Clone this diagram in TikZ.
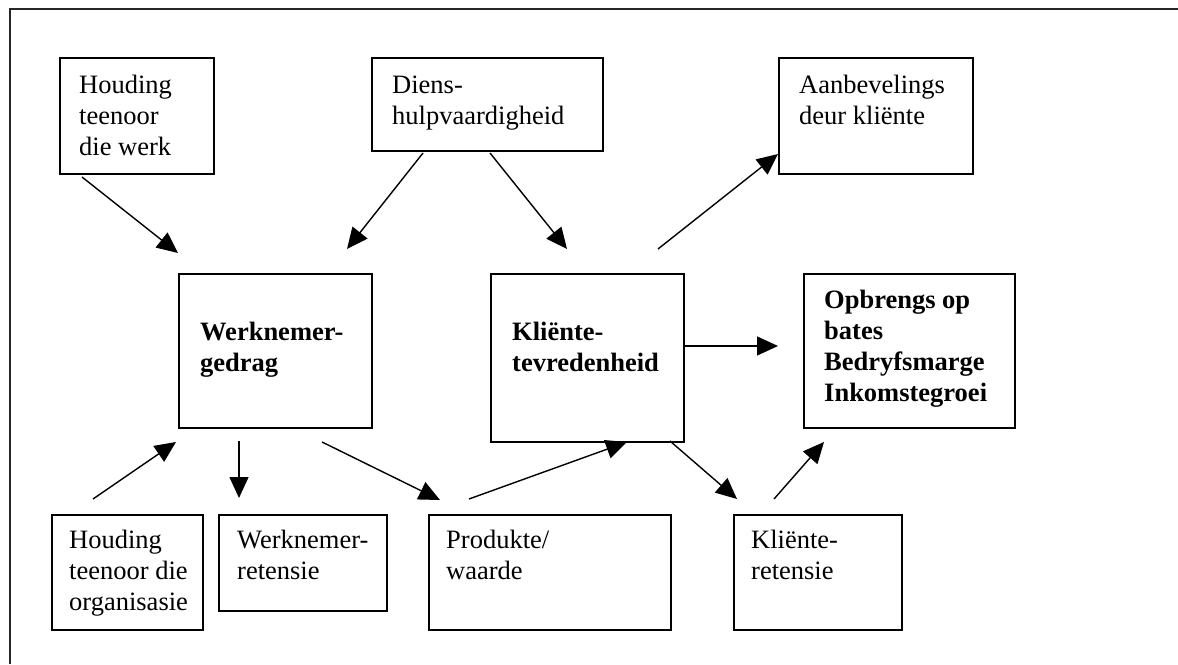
\documentclass[tikz,border=0pt]{standalone}
\usepackage{fontspec}
\setmainfont{Liberation Serif}
\usetikzlibrary{arrows.meta}
\begin{document}
\begin{tikzpicture}[x=1pt,y=-1pt,
  box/.style={draw, line width=1.6pt, inner sep=0pt, anchor=north west},
  lbl/.style={inner sep=0pt, anchor=base west, font=\fontsize{26.5}{31}\selectfont},
  blbl/.style={lbl, font=\fontsize{26.5}{31}\selectfont\bfseries},
  arr/.style={line width=1.4pt, -{Triangle[length=21pt,width=19pt]}}]
\useasboundingbox (0,0) rectangle (1178,664);
\draw[line width=2pt, draw=black!85] (10,664) -- (10,9) -- (1178,9);
% boxes
\node[box, minimum width=154pt, minimum height=116pt] (b1) at (59,57) {};
\node[box, minimum width=231pt, minimum height=93pt] (b2) at (371,57) {};
\node[box, minimum width=194pt, minimum height=116pt] (b3) at (778,57) {};
\node[box, minimum width=193pt, minimum height=154pt] (b4) at (178,273) {};
\node[box, minimum width=193pt, minimum height=168pt] (b5) at (490,273) {};
\node[box, minimum width=211pt, minimum height=154pt] (b6) at (803,273) {};
\node[box, minimum width=151pt, minimum height=115pt] (b7) at (51,514) {};
\node[box, minimum width=168pt, minimum height=96pt] (b8) at (218,514) {};
\node[box, minimum width=242pt, minimum height=115pt] (b9) at (428,514) {};
\node[box, minimum width=168pt, minimum height=115pt] (b10) at (733,514) {};
% texts
\node[lbl] (t1) at (79,93) {\parbox[t]{140pt}{Houding\\teenoor\\die werk}};
\node[lbl] (t2) at (392,93) {\parbox[t]{210pt}{Diens-\\hulpvaardigheid}};
\node[lbl] (t3) at (799,93) {\parbox[t]{180pt}{Aanbevelings\\deur kliënte}};
\node[blbl] (t4) at (200,340) {\parbox[t]{170pt}{Werknemer-\\gedrag}};
\node[blbl] (t5) at (512,340) {\parbox[t]{170pt}{Kliënte-\\tevredenheid}};
\node[blbl] (t6) at (824,308) {\parbox[t]{190pt}{Opbrengs op\\bates\\Bedryfsmarge\\Inkomstegroei}};
\node[lbl] (t7) at (69,548) {\parbox[t]{140pt}{Houding\\teenoor die\\organisasie}};
\node[lbl] (t8) at (237,548) {\parbox[t]{150pt}{Werknemer-\\retensie}};
\node[lbl] (t9) at (446,548) {\parbox[t]{200pt}{Produkte/\\waarde}};
\node[lbl] (t10) at (751,548) {\parbox[t]{150pt}{Kliënte-\\retensie}};
% arrow end points
\coordinate (a1s) at (82,177);  \coordinate (a1e) at (178,253);
\coordinate (a2s) at (423,153); \coordinate (a2e) at (347,249);
\coordinate (a3s) at (490,153); \coordinate (a3e) at (567,249);
\coordinate (a4s) at (658,249); \coordinate (a4e) at (778,154);
\coordinate (a5s) at (683,346); \coordinate (a5e) at (778,346);
\coordinate (a6s) at (93,499);  \coordinate (a6e) at (176,442);
\coordinate (a7s) at (239,441); \coordinate (a7e) at (239,498);
\coordinate (a8s) at (322,442); \coordinate (a8e) at (440,500);
\coordinate (a9s) at (469,499); \coordinate (a9e) at (627,442);
\coordinate (a10s) at (670,441); \coordinate (a10e) at (737,499);
\coordinate (a11s) at (774,499); \coordinate (a11e) at (824,442);
\foreach \i in {1,...,11} { \draw[arr] (a\i s) -- (a\i e); }
\end{tikzpicture}
\end{document}
